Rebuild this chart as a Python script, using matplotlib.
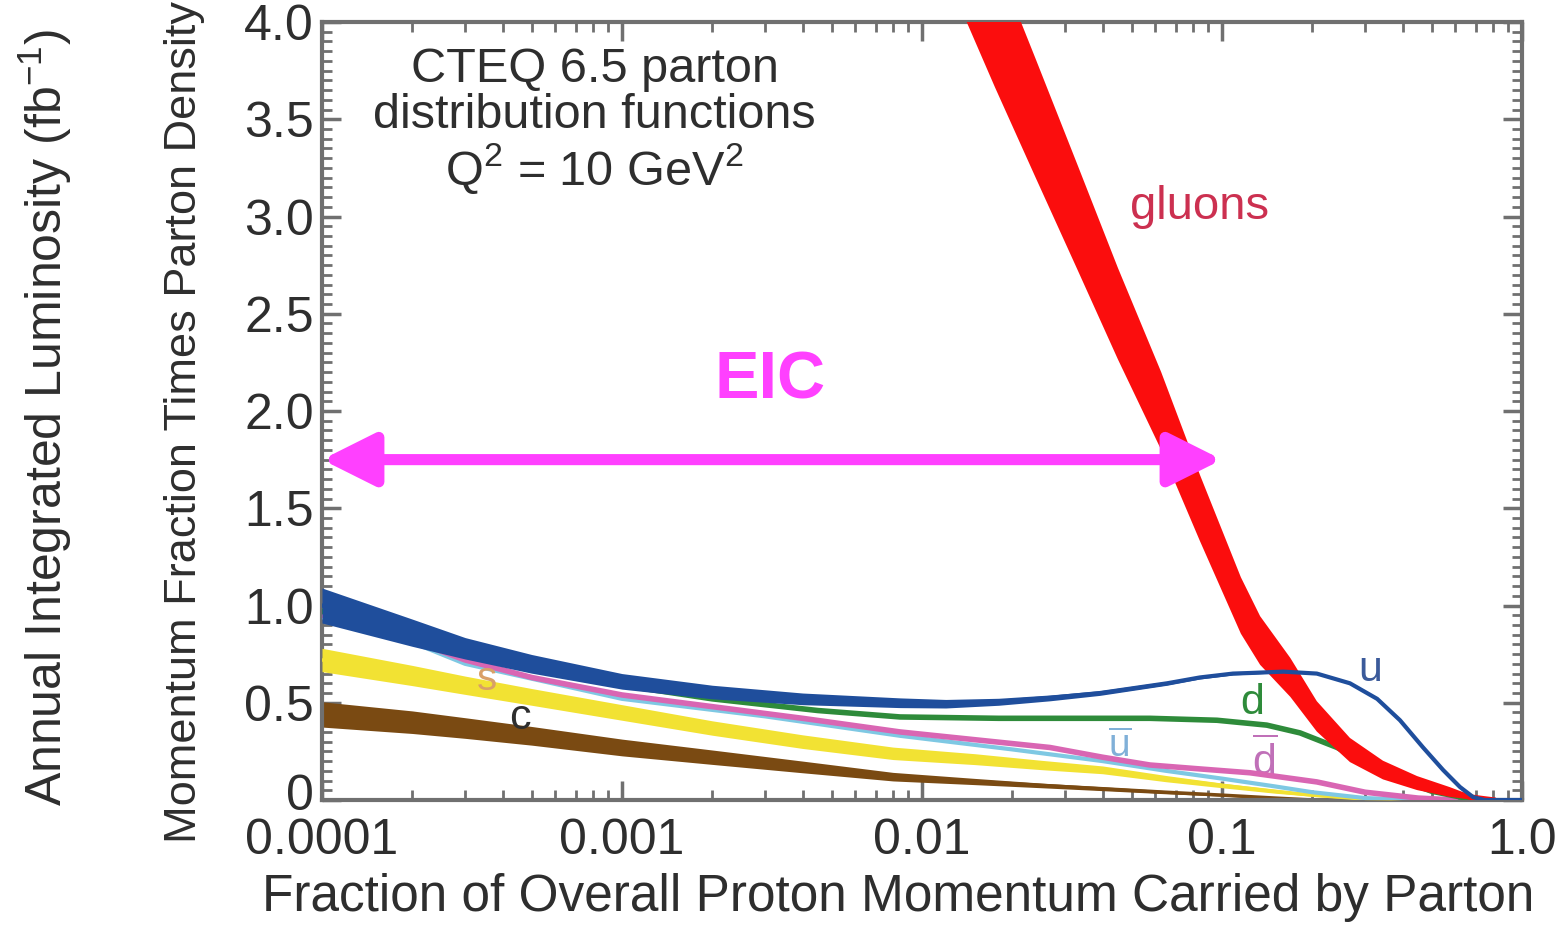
import matplotlib
matplotlib.use('Agg')
import matplotlib.pyplot as plt
import matplotlib.transforms as mtransforms
from matplotlib.ticker import FixedLocator, MultipleLocator, LogLocator, NullFormatter, FixedFormatter

plt.rcParams['font.family'] = ['Liberation Sans', 'DejaVu Sans']
plt.rcParams['mathtext.fontset'] = 'custom'
plt.rcParams['mathtext.rm'] = 'Liberation Sans'
plt.rcParams['mathtext.it'] = 'Liberation Sans:italic'
plt.rcParams['mathtext.bf'] = 'Liberation Sans:bold'

# gluons (band: centre and half width)
gluon_x = [0.01, 0.0175, 0.024, 0.0329, 0.045, 0.0627, 0.0845, 0.1156, 0.134, 0.169,
           0.207, 0.267, 0.344, 0.447, 0.575, 0.671, 0.8]
gluon_y = [4.89, 4.0, 3.5, 3.0, 2.5, 2.0, 1.5, 1.0, 0.82, 0.63,
           0.43, 0.257, 0.154, 0.087, 0.041, 0.015, 0.0]
gluon_hw = [0.36, 0.335, 0.305, 0.27, 0.235, 0.2, 0.17, 0.145, 0.125, 0.1,
            0.078, 0.062, 0.048, 0.036, 0.025, 0.012, 0.004]

# u quark (band at small x, line at large x)
u_x = [1e-4, 2e-4, 3e-4, 5e-4, 1e-3, 2e-3, 4e-3, 0.00845, 0.012, 0.018, 0.0267, 0.0392,
       0.0656, 0.0843, 0.1088, 0.124, 0.16, 0.207, 0.267, 0.329, 0.392, 0.468, 0.546,
       0.621, 0.687, 0.75, 1.0]
u_y = [1.0, 0.86, 0.78, 0.70, 0.61, 0.555, 0.52, 0.50, 0.495, 0.505, 0.525, 0.55,
       0.60, 0.63, 0.65, 0.653, 0.66, 0.65, 0.60, 0.52, 0.41, 0.27, 0.154,
       0.067, 0.015, 0.0, 0.0]
u_hw = [0.09, 0.07, 0.055, 0.048, 0.04, 0.035, 0.03, 0.025, 0.022, 0.018, 0.015, 0.012,
        0.01, 0.008, 0.007, 0.006, 0.005, 0.004, 0.003, 0.002, 0.002, 0.001, 0.001,
        0.0, 0.0, 0.0, 0.0]

# d quark
d_x = [1e-4, 3e-4, 1e-3, 2e-3, 4.5e-3, 0.00845, 0.018, 0.04, 0.0575, 0.0962, 0.141,
       0.182, 0.242, 0.3, 0.4, 0.5, 0.7]
d_y = [0.97, 0.75, 0.59, 0.52, 0.46, 0.427, 0.42, 0.42, 0.42, 0.41, 0.385,
       0.345, 0.27, 0.19, 0.10, 0.045, 0.0]

# d-bar
dbar_x = [1e-4, 2e-4, 3e-4, 5e-4, 1e-3, 2e-3, 4e-3, 0.00845, 0.015, 0.0267, 0.04, 0.0575,
          0.084, 0.124, 0.207, 0.3, 0.45, 0.6]
dbar_y = [0.95, 0.82, 0.72, 0.63, 0.54, 0.48, 0.42, 0.35, 0.31, 0.27, 0.22, 0.18,
          0.16, 0.14, 0.093, 0.04, 0.01, 0.0]

# u-bar
ubar_x = [1e-4, 2e-4, 3e-4, 1e-3, 3e-3, 0.00845, 0.02, 0.04, 0.065, 0.1, 0.15, 0.2, 0.3, 0.45]
ubar_y = [0.94, 0.81, 0.70, 0.52, 0.43, 0.33, 0.26, 0.20, 0.15, 0.11, 0.07, 0.04, 0.01, 0.0]

# strange (band)
s_x = [1e-4, 2e-4, 3e-4, 5e-4, 1e-3, 2e-3, 4e-3, 8e-3, 0.015, 0.025, 0.04, 0.065,
       0.1, 0.15, 0.2, 0.3, 0.4]
s_y = [0.72, 0.64, 0.59, 0.53, 0.45, 0.37, 0.30, 0.24, 0.21, 0.18, 0.155, 0.11,
       0.075, 0.045, 0.025, 0.005, 0.0]
s_hw = [0.06, 0.052, 0.047, 0.043, 0.04, 0.037, 0.035, 0.032, 0.028, 0.024, 0.02, 0.016,
        0.012, 0.01, 0.006, 0.003, 0.0]

# charm (band)
c_x = [1e-4, 2e-4, 3e-4, 5e-4, 1e-3, 2e-3, 4e-3, 8e-3, 0.015, 0.025, 0.04, 0.065,
       0.1, 0.15, 0.2]
c_y = [0.44, 0.40, 0.37, 0.33, 0.27, 0.22, 0.17, 0.12, 0.095, 0.075, 0.058, 0.04,
       0.025, 0.01, 0.0]
c_hw = [0.065, 0.058, 0.053, 0.048, 0.043, 0.037, 0.03, 0.022, 0.016, 0.012, 0.01, 0.008,
        0.005, 0.003, 0.0]

# EIC reach
eic_range = [1e-4, 0.1]
eic_level = 1.75

x_ticks = [1e-4, 1e-3, 1e-2, 1e-1, 1.0]
x_ticklabels = ['0.0001', '0.001', '0.01', '0.1', '1.0']
y_ticks = [0, 0.5, 1.0, 1.5, 2.0, 2.5, 3.0, 3.5, 4.0]
y_ticklabels = ['0', '0.5', '1.0', '1.5', '2.0', '2.5', '3.0', '3.5', '4.0']

# colours
RED = '#fb0d0d'
BLUE = '#1f4e9c'
GREEN = '#2e8b3a'
PINK = '#d966b3'
CYAN = '#7ec8e3'
YELLOW = '#f2e233'
BROWN = '#7a4a12'
MAGENTA = '#ff40ff'
TXT = '#2e2e2e'
AXC = '#707070'


def band(ax, x, y, hw, color, z):
    lo = [a - b for a, b in zip(y, hw)]
    hi = [a + b for a, b in zip(y, hw)]
    ax.fill_between(x, lo, hi, color=color, lw=0, zorder=z)


fig = plt.figure(figsize=(15.62, 9.43), dpi=100)
ax = fig.add_axes([322 / 1562, 1 - 800 / 943, 1200 / 1562, 778 / 943])
ax.set_xscale('log')
ax.set_xlim(1e-4, 1.0)
ax.set_ylim(0, 4.0)

# lower curves first
band(ax, c_x, c_y, c_hw, BROWN, 2)
ax.plot(c_x, c_y, color=BROWN, lw=2.5, zorder=2)
band(ax, s_x, s_y, s_hw, YELLOW, 3)
ax.plot(s_x, s_y, color=YELLOW, lw=2.5, zorder=3)
ax.plot(ubar_x, ubar_y, color=CYAN, lw=3, zorder=4)
ax.plot(dbar_x, dbar_y, color=PINK, lw=4, zorder=5)
ax.plot(d_x, d_y, color=GREEN, lw=4, zorder=6)

# gluons
band(ax, gluon_x, gluon_y, gluon_hw, RED, 7)
ax.plot(gluon_x, gluon_y, color=RED, lw=4, zorder=7)

# u on top
band(ax, u_x, u_y, u_hw, BLUE, 8)
ax.plot(u_x, u_y, color=BLUE, lw=3, zorder=8)

# EIC arrow
ax.annotate('', xy=(eic_range[1], eic_level), xytext=(eic_range[0], eic_level),
            arrowprops=dict(arrowstyle='<|-|>,head_length=0.8,head_width=0.4',
                            mutation_scale=40, color=MAGENTA, lw=8,
                            shrinkA=0, shrinkB=0), zorder=9)
ax.text(0.00311, 2.15, 'EIC', color=MAGENTA, fontsize=48, fontweight='bold',
        ha='center', va='center', zorder=9)

# curve labels
ax.text(0.0845, 3.05, 'gluons', color='#cc3050', fontsize=34, ha='center', va='center')
ax.text(0.311, 0.67, 'u', color='#3b5a9a', fontsize=31, ha='center', va='center')
ax.text(0.126, 0.50, 'd', color=GREEN, fontsize=31, ha='center', va='center')
ax.text(0.139, 0.20, r'$\overline{\mathrm{d}}$', color='#c070b8', fontsize=31,
        ha='center', va='center')
ax.text(0.0457, 0.27, r'$\overline{\mathrm{u}}$', color='#80b0d8', fontsize=28,
        ha='center', va='center', zorder=9)
ax.text(3.55e-4, 0.62, 's', color='#d9a066', fontsize=29, ha='center', va='center', zorder=9)
ax.text(4.57e-4, 0.42, 'c', color=TXT, fontsize=31, ha='center', va='center', zorder=9)

ax.text(8.1e-4, 3.49, 'CTEQ 6.5 parton\ndistribution functions\nQ$^2$ = 10 GeV$^2$',
        color=TXT, fontsize=35, ha='center', va='center', linespacing=1.05)

# ticks
ax.xaxis.set_major_locator(FixedLocator(x_ticks))
ax.xaxis.set_major_formatter(FixedFormatter(x_ticklabels))
ax.xaxis.set_minor_locator(LogLocator(base=10, subs=range(2, 10)))
ax.xaxis.set_minor_formatter(NullFormatter())
ax.yaxis.set_major_locator(FixedLocator(y_ticks))
ax.yaxis.set_major_formatter(FixedFormatter(y_ticklabels))
ax.yaxis.set_minor_locator(MultipleLocator(0.05))
ax.tick_params(which='both', direction='in', top=True, right=True, color=AXC)
ax.tick_params(which='major', length=14, width=2.5, labelsize=36, labelcolor=TXT, pad=6)
ax.tick_params(which='minor', length=7, width=2)
ax.tick_params(axis='x', which='major', pad=13)
for sp in ax.spines.values():
    sp.set_color(AXC)
    sp.set_linewidth(3)

# the "0" on the y axis sits a little above the corner, as in the original
nudge = mtransforms.ScaledTranslation(0, 6 / 72, fig.dpi_scale_trans)
for tick in ax.yaxis.get_major_ticks()[:1]:
    tick.label1.set_transform(tick.label1.get_transform() + nudge)

# axis titles
fig.text(898 / 1562, 1 - 897 / 943, 'Fraction of Overall Proton Momentum Carried by Parton',
         fontsize=37, color=TXT, ha='center', va='center')
fig.text(185 / 1562, 1 - 422 / 943, 'Momentum Fraction Times Parton Density', rotation=90,
         fontsize=32.5, color=TXT, ha='center', va='center')
fig.text(45 / 1562, 0.557, 'Annual Integrated Luminosity (fb$^{-1}$)', rotation=90,
         fontsize=36, color=TXT, ha='center', va='center')

fig.savefig('out.png', dpi=100)
